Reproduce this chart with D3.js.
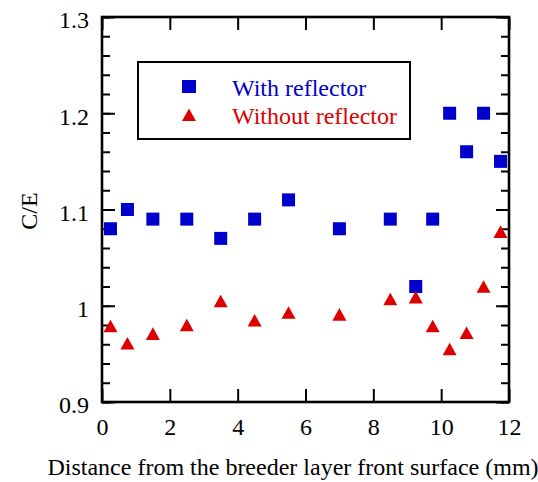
<!DOCTYPE html>
<html>
<head>
<meta charset="utf-8">
<script src="https://cdn.jsdelivr.net/npm/d3@7"></script>
<style>
  html, body { margin: 0; padding: 0; background: #fff; }
  svg { display: block; }
  text { font-family: "Liberation Serif", "Times New Roman", serif; }
</style>
</head>
<body>
<svg id="chart" width="538" height="482"></svg>
<script>
// Distance from the breeder layer front surface (mm)
const distances = [0.25, 0.75, 1.5, 2.5, 3.5, 4.5, 5.5, 7, 8.5, 9.25, 9.75, 10.25, 10.75, 11.25, 11.75];
// C/E ratios
const withReflector    = [1.08, 1.10, 1.09, 1.09, 1.07, 1.09, 1.11, 1.08, 1.09, 1.02, 1.09, 1.20, 1.16, 1.20, 1.15];
const withoutReflector = [0.979, 0.961, 0.971, 0.980, 1.005, 0.985, 0.993, 0.991, 1.007, 1.009, 0.979, 0.955, 0.972, 1.020, 1.077];
const seriesNames = ["With reflector", "Without reflector"];
const xTicks = [0, 2, 4, 6, 8, 10, 12];
const yTicks = [0.9, 1.0, 1.1, 1.2, 1.3];
const yTickLabels = ["0.9", "1", "1.1", "1.2", "1.3"];
const yMinorTicks = d3.range(0, 21).map(i => +(0.9 + i * 0.02).toFixed(2));

const BLUE = "#0000cc";
const RED = "#dd0000";

const svg = d3.select("#chart");
const plotL = 102, plotR = 509, plotT = 17, plotB = 402;

const x = d3.scaleLinear().domain([0, 12]).range([plotL, plotR]);
const y = d3.scaleLinear().domain([0.9, 1.3]).range([plotB, plotT]);

const fontSize = 24;

// minor y ticks (both sides, inward)
svg.append("g").attr("transform", `translate(${plotL},0)`)
  .call(d3.axisLeft(y).tickValues(yMinorTicks).tickSize(-8).tickFormat(""))
  .call(g => g.select(".domain").remove());
svg.append("g").attr("transform", `translate(${plotR},0)`)
  .call(d3.axisRight(y).tickValues(yMinorTicks).tickSize(-8).tickFormat(""))
  .call(g => g.select(".domain").remove());

// major y ticks with labels on the left
svg.append("g").attr("transform", `translate(${plotL},0)`)
  .call(d3.axisLeft(y).tickValues(yTicks).tickSize(-13).tickPadding(13)
    .tickFormat((d, i) => yTickLabels[i]))
  .call(g => g.select(".domain").remove())
  .call(g => g.selectAll("text").attr("dy", "0.45em"));
svg.append("g").attr("transform", `translate(${plotR},0)`)
  .call(d3.axisRight(y).tickValues(yTicks).tickSize(-13).tickFormat(""))
  .call(g => g.select(".domain").remove());

// x ticks, bottom with labels, top without
svg.append("g").attr("transform", `translate(0,${plotB})`)
  .call(d3.axisBottom(x).tickValues(xTicks).tickSize(-13).tickPadding(16).tickFormat(d3.format("d")))
  .call(g => g.select(".domain").remove());
svg.append("g").attr("transform", `translate(0,${plotT})`)
  .call(d3.axisTop(x).tickValues(xTicks).tickSize(-13).tickFormat(""))
  .call(g => g.select(".domain").remove());

svg.selectAll(".tick line").attr("stroke", "#000").attr("stroke-width", 2);
svg.selectAll(".tick text").attr("fill", "#000").attr("font-size", fontSize)
  .attr("font-family", "'Liberation Serif', serif");

// plot frame
svg.append("rect")
  .attr("x", plotL).attr("y", plotT)
  .attr("width", plotR - plotL).attr("height", plotB - plotT)
  .attr("fill", "none").attr("stroke", "#000").attr("stroke-width", 2.6);

// axis titles
svg.append("text")
  .attr("x", 293).attr("y", 475)
  .attr("text-anchor", "middle")
  .attr("font-size", fontSize)
  .text("Distance from the breeder layer front surface (mm)");

svg.append("text")
  .attr("transform", "translate(37,211) rotate(-90)")
  .attr("text-anchor", "middle")
  .attr("font-size", fontSize)
  .text("C/E");

// markers
const sq = 13;
const triPath = "M0,-6.3L7,6.3L-7,6.3Z";

const withData = distances.map((d, i) => ({ x: d, v: withReflector[i] }));
const withoutData = distances.map((d, i) => ({ x: d, v: withoutReflector[i] }));

svg.append("g").selectAll("rect").data(withData).join("rect")
  .attr("x", d => x(d.x) - sq / 2)
  .attr("y", d => y(d.v) - sq / 2)
  .attr("width", sq).attr("height", sq)
  .attr("fill", BLUE);

svg.append("g").selectAll("path").data(withoutData).join("path")
  .attr("transform", d => `translate(${x(d.x)},${y(d.v)})`)
  .attr("d", triPath)
  .attr("fill", RED);

// legend
const legend = svg.append("g");
legend.append("rect")
  .attr("x", 138).attr("y", 62).attr("width", 272).attr("height", 77)
  .attr("fill", "#fff").attr("stroke", "#000").attr("stroke-width", 2);
legend.append("rect")
  .attr("x", 189 - 7).attr("y", 86.5 - 6.5).attr("width", 14).attr("height", 13)
  .attr("fill", BLUE);
legend.append("path")
  .attr("transform", "translate(189,114.7)")
  .attr("d", triPath)
  .attr("fill", RED);
legend.append("text")
  .attr("x", 232).attr("y", 96)
  .attr("font-size", fontSize).attr("fill", BLUE)
  .text(seriesNames[0]);
legend.append("text")
  .attr("x", 232).attr("y", 124)
  .attr("font-size", fontSize).attr("fill", RED)
  .text(seriesNames[1]);
</script>
</body>
</html>
